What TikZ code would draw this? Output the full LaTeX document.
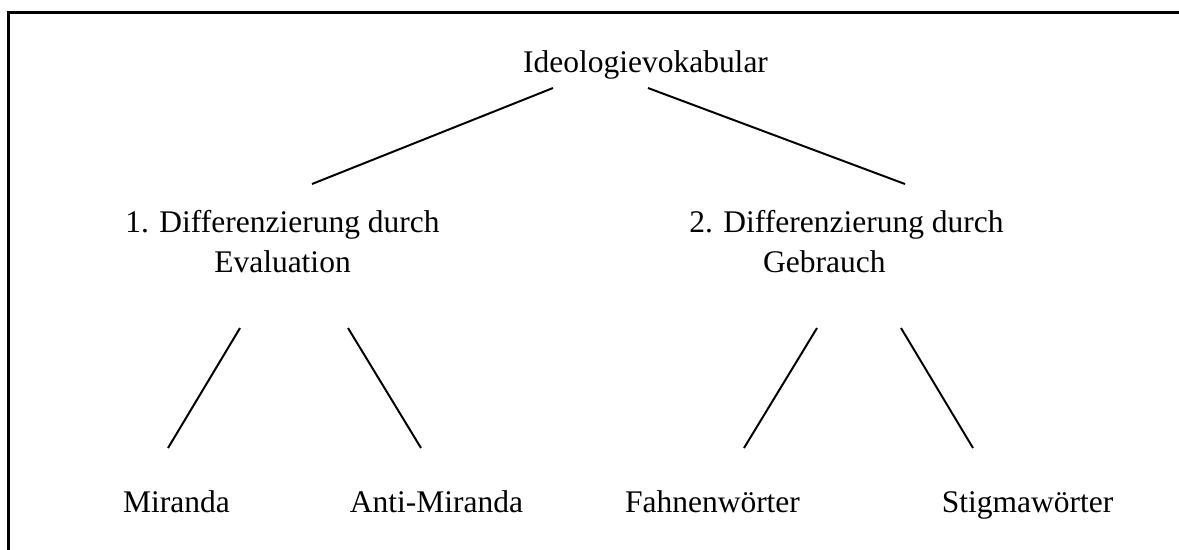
\documentclass[tikz,border=0pt]{standalone}
\usepackage{fontspec}
\setmainfont{Liberation Serif}

\begin{document}
\begin{tikzpicture}[x=0.381pt,y=-0.381pt,
  lbl/.style={font=\fontsize{12}{15.2}\selectfont, inner sep=0pt, anchor=base, align=center},
  edge/.style={black, line width=0.75pt}]
\useasboundingbox (0,0) rectangle (1179,549);
% frame (only top and left edge are visible)
\draw[line width=0.8pt] (8.5,560) -- (8.5,12.5) -- (1190,12.5);

\node[lbl] (ideo) at (645.5,72) {Ideologievokabular};
% base anchor sits on the last line
\node[lbl] (eval) at (282.5,272) {1. Differenzierung durch\\Evaluation};
\node[lbl] (gebr) at (846.5,272) {2. Differenzierung durch\\Gebrauch\hspace*{16.8pt}};
\node[lbl] (mir)  at (176.5,512) {Miranda};
\node[lbl] (anti) at (436.5,512) {Anti-Miranda};
\node[lbl] (fahn) at (712.5,512) {Fahnenw\"orter};
\node[lbl] (stig) at (1027.5,512) {Stigmaw\"orter};

% line ends
\coordinate (ideoL) at (553,88);
\coordinate (ideoR) at (648,88);
\coordinate (evalT) at (312,184);
\coordinate (gebrT) at (905,184);
\coordinate (evalL) at (240,328);
\coordinate (evalR) at (348,328);
\coordinate (gebrL) at (817,328);
\coordinate (gebrR) at (901,328);
\coordinate (mirT)  at (168,448);
\coordinate (antiT) at (421,448);
\coordinate (fahnT) at (744,448);
\coordinate (stigT) at (973,448);

\draw[edge] (ideoL) -- (evalT);
\draw[edge] (ideoR) -- (gebrT);
\draw[edge] (evalL) -- (mirT);
\draw[edge] (evalR) -- (antiT);
\draw[edge] (gebrL) -- (fahnT);
\draw[edge] (gebrR) -- (stigT);
\end{tikzpicture}
\end{document}
